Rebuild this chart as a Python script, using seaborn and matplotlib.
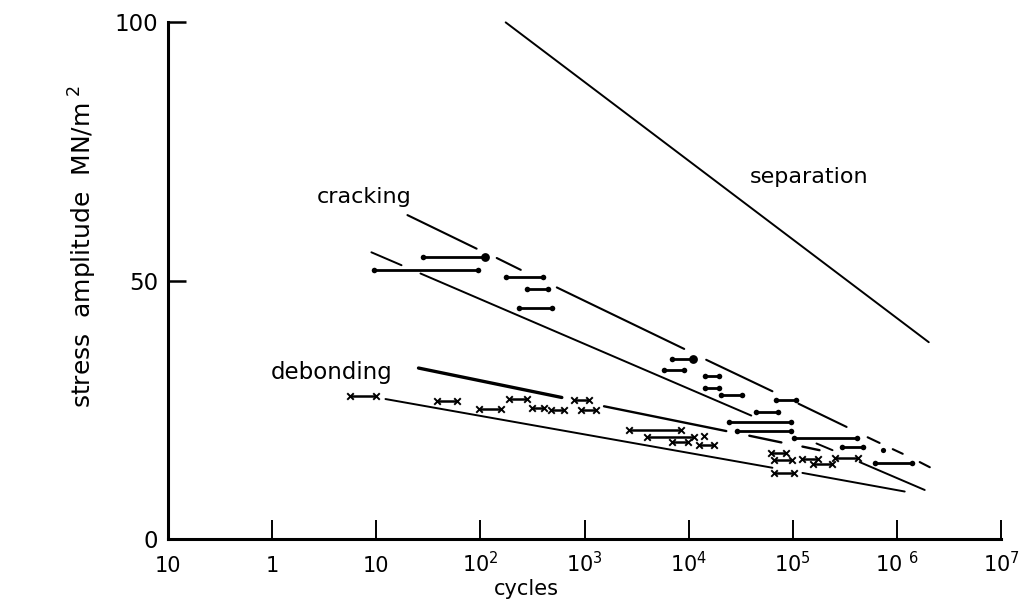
import numpy as np
import pandas as pd
import matplotlib
matplotlib.use("Agg")
import matplotlib.pyplot as plt
import seaborn as sns
from matplotlib.ticker import NullLocator

# ---- trend lines: pieces as (log10 N start, stress start, log10 N end, stress end) ----
separation_pieces = [(2.243, 100.0, 6.305, 38.1)]

cracking_upper_pieces = [
    (1.300, 62.7, 1.964, 56.2),
    (2.157, 54.4, 2.388, 52.1),
    (2.734, 48.7, 3.957, 36.8),
    (4.168, 34.7, 4.804, 28.6),
    (5.054, 26.2, 5.516, 21.7),
    (5.718, 19.7, 5.833, 18.6),
    (5.959, 17.4, 6.055, 16.5),
    (6.218, 14.9, 6.315, 13.9),
]

cracking_lower_pieces = [
    (0.954, 55.5, 1.243, 53.0),
    (1.425, 51.4, 4.601, 23.9),
    (5.227, 18.5, 5.381, 17.2),
    (5.641, 14.9, 6.266, 9.5),
]

debonding_upper_head = [(1.406, 33.1, 2.782, 27.4)]
debonding_upper_pieces = [
    (3.187, 25.7, 4.361, 20.9),
    (4.582, 20.0, 4.890, 18.7),
    (5.092, 17.9, 5.256, 17.2),
]

debonding_lower_pieces = [
    (1.089, 27.1, 4.804, 13.8),
    (5.092, 12.8, 6.074, 9.2),
]

# ---- test results: (log10 N start, log10 N end, stress) ----
cracking_bar_start = [1.454, 0.983, 2.243, 2.446, 2.369, 3.841, 3.764, 4.159, 4.159,
                      4.313, 4.842, 4.649, 4.390, 4.467, 5.015, 5.468, 5.785]
cracking_bar_end = [2.041, 1.974, 2.600, 2.648, 2.686, 4.043, 3.957, 4.293, 4.293,
                    4.515, 5.035, 4.861, 4.987, 4.987, 5.612, 5.670, 6.141]
cracking_bar_stress = [54.5, 52.0, 50.7, 48.4, 44.8, 34.8, 32.8, 31.5, 29.3,
                       27.9, 27.0, 24.5, 22.6, 21.0, 19.5, 17.8, 14.8]
cracking_big_dots = [0, 5]          # bars ending in a heavier dot
cracking_single_log_n = [5.862]
cracking_single_stress = [17.2]

debonding_bar_start = [0.752, 1.579, 1.984, 2.272, 2.494, 2.677, 2.898, 2.965, 3.427,
                       3.601, 3.841, 4.101, 4.794, 4.823, 4.823, 5.092, 5.189, 5.400]
debonding_bar_end = [1.002, 1.772, 2.195, 2.446, 2.609, 2.802, 3.042, 3.110, 3.928,
                     4.053, 3.990, 4.245, 4.938, 4.996, 5.015, 5.237, 5.372, 5.622]
debonding_bar_stress = [27.6, 26.8, 25.2, 27.1, 25.4, 24.9, 26.9, 24.9, 21.1,
                        19.8, 18.8, 18.2, 16.6, 15.3, 12.7, 15.5, 14.6, 15.7]
debonding_single_log_n = [4.149]
debonding_single_stress = [19.9]

# ---- axes labelling ----
x_tick_exponents = [-1, 0, 1, 2, 3, 4, 5, 6, 7]
x_tick_labels = ["10", "1", "10", r"$10^2$", r"$10^3$", r"$10^4$", r"$10^5$",
                 r"$10\ ^6$", r"$10^7$"]
y_ticks = [0, 50, 100]
y_tick_labels = ["0", "50", "100"]


def pieces_frame(pieces):
    rows = []
    for k, (n0, s0, n1, s1) in enumerate(pieces):
        rows.append({"piece": k, "cycles": 10 ** n0, "stress": s0})
        rows.append({"piece": k, "cycles": 10 ** n1, "stress": s1})
    return pd.DataFrame(rows)


def bars_frame(starts, ends, stresses):
    rows = []
    for k, (a, b, s) in enumerate(zip(starts, ends, stresses)):
        rows.append({"piece": k, "cycles": 10 ** a, "stress": s})
        rows.append({"piece": k, "cycles": 10 ** b, "stress": s})
    return pd.DataFrame(rows)


sns.set_theme(style="ticks")
plt.rcParams["font.family"] = ["DejaVu Sans"]
plt.rcParams["mathtext.fontset"] = "dejavusans"

fig = plt.figure(figsize=(10.3, 6.05), dpi=100)
ax = fig.add_axes([0.163, 0.109, 0.809, 0.854])

ink = "black"

def draw_pieces(pieces, lw):
    sns.lineplot(data=pieces_frame(pieces), x="cycles", y="stress", units="piece",
                 estimator=None, sort=False, color=ink, linewidth=lw, ax=ax,
                 legend=False, clip_on=False)

draw_pieces(separation_pieces, 1.4)
draw_pieces(cracking_upper_pieces, 1.5)
draw_pieces(cracking_lower_pieces, 1.4)
draw_pieces(debonding_upper_head, 2.4)
draw_pieces(debonding_upper_pieces, 1.7)
draw_pieces(debonding_lower_pieces, 1.4)

# cracking results: bars with dot ends
cb = bars_frame(cracking_bar_start, cracking_bar_end, cracking_bar_stress)
sns.lineplot(data=cb, x="cycles", y="stress", units="piece", estimator=None,
             sort=False, color=ink, linewidth=2.0, ax=ax, legend=False)
sns.scatterplot(data=cb, x="cycles", y="stress", color=ink, s=16, marker="o",
                edgecolor=ink, linewidth=0, ax=ax, legend=False)
big = pd.DataFrame({"cycles": [10 ** cracking_bar_end[i] for i in cracking_big_dots],
                    "stress": [cracking_bar_stress[i] for i in cracking_big_dots]})
sns.scatterplot(data=big, x="cycles", y="stress", color=ink, s=40, marker="o",
                linewidth=0, ax=ax, legend=False)
sns.scatterplot(x=[10 ** v for v in cracking_single_log_n], y=cracking_single_stress,
                color=ink, s=14, marker="o", linewidth=0, ax=ax, legend=False)

# debonding results: bars with cross ends
db = bars_frame(debonding_bar_start, debonding_bar_end, debonding_bar_stress)
sns.lineplot(data=db, x="cycles", y="stress", units="piece", estimator=None,
             sort=False, color=ink, linewidth=1.8, ax=ax, legend=False)
sns.scatterplot(data=db, x="cycles", y="stress", color=ink, s=22, marker="x",
                linewidth=1.4, ax=ax, legend=False)
sns.scatterplot(x=[10 ** v for v in debonding_single_log_n], y=debonding_single_stress,
                color=ink, s=22, marker="x", linewidth=1.4, ax=ax, legend=False)

# curve names
ax.text(10 ** 5.16, 70.0, "separation", ha="center", va="center", fontsize=16, color=ink)
ax.text(10 ** 0.886, 66.2, "cracking", ha="center", va="center", fontsize=16, color=ink)
ax.text(10 ** 0.569, 32.3, "debonding", ha="center", va="center", fontsize=16.5, color=ink)

# axes
ax.set_xscale("log")
ax.set_xlim(10.0 ** x_tick_exponents[0], 10.0 ** x_tick_exponents[-1])
ax.set_ylim(y_ticks[0], y_ticks[-1])
ax.set_xticks([10.0 ** e for e in x_tick_exponents])
ax.set_xticklabels(x_tick_labels, fontsize=15, va="baseline")
ax.xaxis.set_minor_locator(NullLocator())
ax.set_yticks(y_ticks)
ax.set_yticklabels(y_tick_labels, fontsize=16.5)
ax.tick_params(axis="x", direction="in", length=14, width=1.4, pad=24, colors=ink)
ax.tick_params(axis="y", direction="in", length=13, width=1.8, pad=7, colors=ink)

sns.despine(ax=ax)
for side in ("left", "bottom"):
    ax.spines[side].set_linewidth(2.2)
    ax.spines[side].set_color(ink)

ax.set_xlabel("cycles", fontsize=15, color=ink)
ax.xaxis.set_label_coords(0.43, -0.078)
ax.set_ylabel("stress  amplitude  MN/m$^{\\ 2}$", fontsize=18, color=ink)
ax.yaxis.set_label_coords(-0.083, 0.567)
ax.set_facecolor("white")
fig.patch.set_facecolor("white")

fig.savefig("out.png", dpi=100, facecolor="white")
